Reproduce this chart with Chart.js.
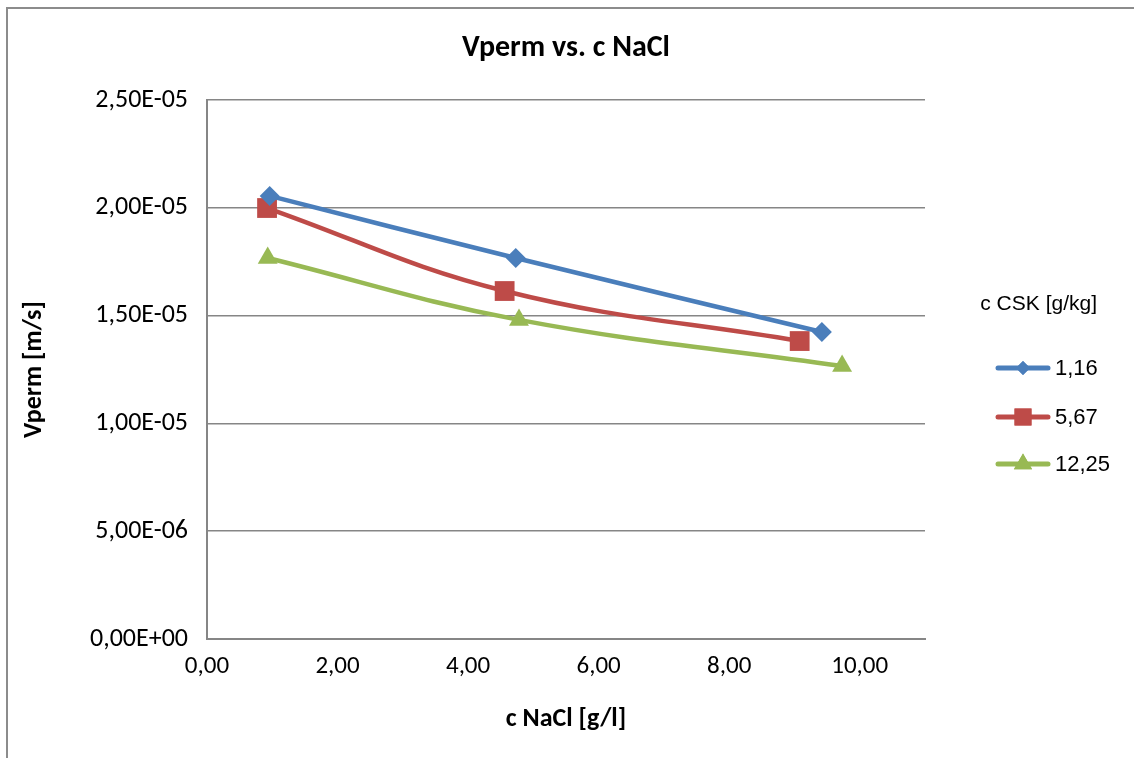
<!DOCTYPE html>
<html>
<head>
<meta charset="utf-8">
<script src="https://cdn.jsdelivr.net/npm/chart.js@4/dist/chart.umd.min.js"></script>
<style>
  html, body { margin: 0; padding: 0; background: #fff; }
  #wrap { position: relative; width: 1134px; height: 758px; overflow: hidden; }
  #frame { position: absolute; left: 6px; top: 7px; right: -10px; bottom: -10px; border-top: 2px solid #8c8c8c; border-left: 2px solid #8c8c8c; }
  canvas { position: absolute; left: 0; top: 0; }
</style>
</head>
<body>
<div id="wrap">
  <div id="frame"></div>
  <canvas id="c" width="1134" height="758"></canvas>
</div>
<script>
const chartTitle = 'Vperm vs. c NaCl';
const xTitle = 'c NaCl [g/l]';
const yTitle = 'Vperm [m/s]';
const legendTitle = 'c CSK [g/kg]';
const seriesNames = ['1,16', '5,67', '12,25'];

const x116 = [0.96, 4.73, 9.42];
const y116 = [2.055e-5, 1.767e-5, 1.424e-5];
const x567 = [0.92, 4.56, 9.08];
const y567 = [1.999e-5, 1.614e-5, 1.382e-5];
const x1225 = [0.93, 4.78, 9.73];
const y1225 = [1.767e-5, 1.480e-5, 1.266e-5];

const xTicks = [0, 2, 4, 6, 8, 10];
const yTicks = [0, 5e-6, 1e-5, 1.5e-5, 2e-5, 2.5e-5];

function pts(xs, ys) { return xs.map((x, i) => ({ x: x, y: ys[i] })); }

function fmtExp(v) {
  if (Math.abs(v) < 1e-12) return '0,00E+00';
  let e = Math.floor(Math.log10(Math.abs(v)));
  let m = v / Math.pow(10, e);
  m = Math.round(m * 100) / 100;
  if (m >= 10) { m /= 10; e += 1; }
  const es = (e < 0 ? '-' : '+') + String(Math.abs(e)).padStart(2, '0');
  return m.toFixed(2).replace('.', ',') + 'E' + es;
}

const colors = ['#4A7EBB', '#BE4B48', '#98B954'];
const styles = ['rectRot', 'rect', 'triangle'];
const radii = [10, 14, 11.5];
const legendRadii = [7, 12, 10.5];
const FONT = 'Carlito, Lato, sans-serif';

const datasets = [
  { label: seriesNames[0], data: pts(x116, y116) },
  { label: seriesNames[1], data: pts(x567, y567) },
  { label: seriesNames[2], data: pts(x1225, y1225) }
].map((d, i) => Object.assign(d, {
  showLine: true,
  borderColor: colors[i],
  backgroundColor: colors[i],
  borderWidth: 4.5,
  pointStyle: styles[i],
  pointRadius: radii[i],
  pointHoverRadius: radii[i],
  pointBorderWidth: 0,
  tension: 0.4
}));

const xlPlugin = {
  id: 'xlDecor',
  afterDraw(chart) {
    const ctx = chart.ctx;
    const ca = chart.chartArea;
    ctx.save();
    ctx.fillStyle = '#000';
    ctx.font = 'bold 30px ' + FONT;
    ctx.textAlign = 'center';
    ctx.textBaseline = 'middle';
    ctx.fillText(chartTitle, (ca.left + ca.right) / 2, 48);
    ctx.font = '21px "Liberation Sans", Arial, sans-serif';
    ctx.textAlign = 'right';
    ctx.fillText(legendTitle, 1097, 304);
    ctx.textAlign = 'left';
    const ys = [368, 417, 464];
    chart.data.datasets.forEach((ds, i) => {
      const y = ys[i];
      ctx.strokeStyle = ds.borderColor;
      ctx.lineWidth = 5;
      ctx.lineCap = 'round';
      ctx.beginPath();
      ctx.moveTo(998, y);
      ctx.lineTo(1048, y);
      ctx.stroke();
      ctx.fillStyle = ds.backgroundColor;
      Chart.helpers.drawPoint(ctx, { pointStyle: ds.pointStyle, radius: legendRadii[i], borderWidth: 0 }, 1023, y);
      ctx.fill();
      ctx.fillStyle = '#000';
      ctx.font = '22px "Liberation Sans", Arial, sans-serif';
      ctx.fillText(ds.label, 1055, y + 1);
    });
    ctx.restore();
  }
};

new Chart(document.getElementById('c'), {
  type: 'scatter',
  data: { datasets: datasets },
  plugins: [xlPlugin],
  options: {
    responsive: false,
    animation: false,
    layout: { padding: { left: 19, right: 209, top: 100, bottom: 23 } },
    plugins: {
      legend: { display: false },
      tooltip: { enabled: false },
      title: { display: false }
    },
    scales: {
      x: {
        type: 'linear',
        min: 0, max: 11,
        afterFit(s) { s.height = 96; },
        afterBuildTicks(s) { s.ticks = xTicks.map(v => ({ value: v })); },
        grid: { display: false, drawTicks: false },
        border: { display: true, color: '#868686', width: 2 },
        ticks: {
          color: '#000',
          padding: 13,
          maxRotation: 0,
          font: { family: FONT, size: 25 },
          callback: v => v.toFixed(2).replace('.', ',')
        },
        title: {
          display: true, text: xTitle, color: '#000',
          font: { family: FONT, size: 26, weight: 'bold' },
          padding: 0
        }
      },
      y: {
        type: 'linear',
        min: 0, max: 2.5e-5,
        afterFit(s) { s.width = 188; },
        afterBuildTicks(s) { s.ticks = yTicks.map(v => ({ value: v })); },
        grid: { color: '#868686', lineWidth: 1.5, drawTicks: false },
        border: { display: true, color: '#868686', width: 2 },
        ticks: {
          color: '#000',
          padding: 19,
          font: { family: FONT, size: 26 },
          callback: v => fmtExp(v)
        },
        title: {
          display: true, text: yTitle, color: '#000',
          font: { family: FONT, size: 26, weight: 'bold' },
          padding: 0
        }
      }
    }
  }
});
</script>
</body>
</html>
